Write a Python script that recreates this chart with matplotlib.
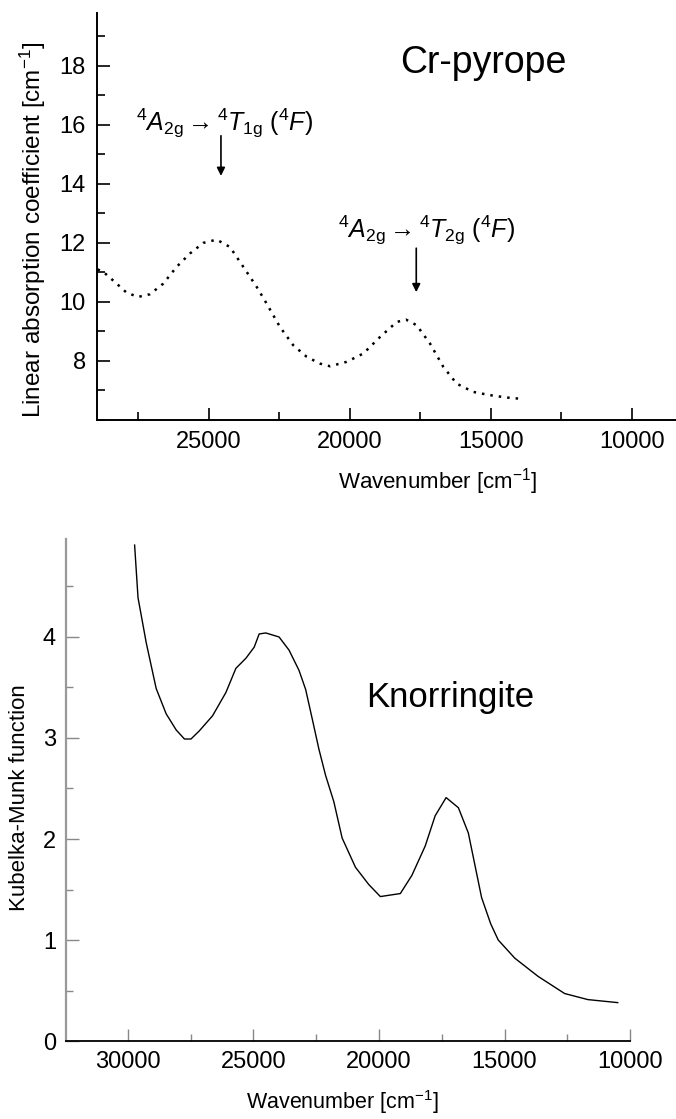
import matplotlib
matplotlib.use("Agg")
import matplotlib.pyplot as plt
from matplotlib.ticker import MultipleLocator

plt.rcParams['font.family'] = ['Liberation Sans', 'DejaVu Sans']
plt.rcParams['mathtext.fontset'] = 'custom'
plt.rcParams['mathtext.rm'] = 'Liberation Sans'
plt.rcParams['mathtext.it'] = 'Liberation Sans:italic'

# Cr-pyrope, linear absorption coefficient (dotted)
pyr_wn = [28950, 28748, 28273, 27918, 27507, 27092, 26620, 26145, 25674, 25202,
          24727, 24255, 23784, 23309, 22954, 22482, 22010, 21535, 21064, 20709,
          20117, 19528, 18936, 18344, 18014, 17635, 17163, 16691, 16216, 15627,
          15035, 14443, 13972]
pyr_val = [11.1, 11.02, 10.62, 10.31, 10.17, 10.26, 10.62, 11.19, 11.64, 12.0,
           12.11, 11.86, 11.19, 10.51, 9.94, 9.15, 8.53, 8.14, 7.91, 7.82,
           7.97, 8.25, 8.81, 9.32, 9.40, 9.21, 8.59, 7.8, 7.23, 6.95,
           6.84, 6.76, 6.72]

# Knorringite, Kubelka-Munk function (solid)
kno_wn = [29735, 29600, 29270, 28876, 28480, 28080, 27750, 27490, 27160, 26630,
          26100, 25700, 25300, 24970, 24774, 24508, 23980, 23584, 23187, 22921,
          22660, 22394, 22128, 21800, 21469, 20937, 20410, 19946, 19150, 18690,
          18160, 17763, 17326, 16838, 16442, 15913, 15550, 15250, 14590, 13664,
          12605, 11680, 10490]
kno_val = [4.91, 4.39, 3.94, 3.49, 3.24, 3.08, 2.99, 2.99, 3.07, 3.22,
           3.45, 3.69, 3.79, 3.9, 4.03, 4.04, 4.0, 3.87, 3.67, 3.48,
           3.19, 2.89, 2.63, 2.37, 2.01, 1.72, 1.55, 1.43, 1.46, 1.64,
           1.93, 2.23, 2.41, 2.31, 2.06, 1.42, 1.16, 1.0, 0.82, 0.64,
           0.47, 0.41, 0.38]

band_labels = [r'${}^{4}A_{\mathrm{2g}} \rightarrow {}^{4}T_{\mathrm{1g}}\ ({}^{4}F)$',
               r'${}^{4}A_{\mathrm{2g}} \rightarrow {}^{4}T_{\mathrm{2g}}\ ({}^{4}F)$']
band_text_xy = [(24433, 16.03), (17294, 12.43)]
band_arrow_x = [24575, 17650]
band_arrow_y = [(15.63, 14.27), (11.82, 10.33)]

fig = plt.figure(figsize=(6.76, 11.19), dpi=100)

# ---- top panel ----
ax1 = fig.add_axes([0.1435, 0.6247, 0.8565, 0.3637])
ax1.plot(pyr_wn, pyr_val, color='black', lw=1.8, linestyle=(0, (1, 2.4)))
ax1.set_xlim(28970, 8440)
ax1.set_ylim(6.0, 19.79)
ax1.xaxis.set_major_locator(MultipleLocator(5000))
ax1.xaxis.set_minor_locator(MultipleLocator(2500))
ax1.yaxis.set_minor_locator(MultipleLocator(1))
ax1.set_yticks([8, 10, 12, 14, 16, 18])
for s in ['top', 'right']:
    ax1.spines[s].set_visible(False)
for s in ['left', 'bottom']:
    ax1.spines[s].set_linewidth(1.4)
ax1.tick_params(which='both', direction='in', width=1.2, labelsize=17)
ax1.tick_params(which='major', length=9, pad=8)
ax1.tick_params(which='minor', length=6)
ax1.set_ylabel('Linear absorption coefficient [cm$^{\\mathrm{-1}}$]', fontsize=17.5)
ax1.yaxis.set_label_coords(-0.1105, 0.467)
ax1.yaxis.label.set_va('center')
ax1.set_xlabel('Wavenumber [cm$^{\\mathrm{-1}}$]', fontsize=16)
ax1.xaxis.set_label_coords(0.589, -0.152)
ax1.xaxis.label.set_va('center')
ax1.text(0.667, 0.877, 'Cr-pyrope', transform=ax1.transAxes, fontsize=27,
         ha='center', va='center')
for lab, (tx, ty), axx, (y0, y1) in zip(band_labels, band_text_xy, band_arrow_x, band_arrow_y):
    ax1.text(tx, ty, lab, fontsize=18, ha='center', va='center')
    ax1.annotate('', xy=(axx, y1), xytext=(axx, y0),
                 arrowprops=dict(arrowstyle='-|>', color='black', lw=1.2,
                                 mutation_scale=12, shrinkA=0, shrinkB=0))

# ---- bottom panel ----
ax2 = fig.add_axes([0.0972, 0.0697, 0.8348, 0.4486])
ax2.plot(kno_wn, kno_val, color='black', lw=1.0)
ax2.set_xlim(32480, 10000)
ax2.set_ylim(0, 4.97)
ax2.xaxis.set_major_locator(MultipleLocator(5000))
ax2.xaxis.set_minor_locator(MultipleLocator(2500))
ax2.yaxis.set_major_locator(MultipleLocator(1))
ax2.yaxis.set_minor_locator(MultipleLocator(0.5))
for s in ['top', 'right']:
    ax2.spines[s].set_visible(False)
ax2.spines['left'].set_color('#999999')
ax2.spines['left'].set_linewidth(1.6)
ax2.spines['bottom'].set_linewidth(1.3)
ax2.tick_params(which='both', direction='in', color='#888888', width=1.0, labelsize=17)
ax2.tick_params(which='major', length=9, pad=7)
ax2.tick_params(which='minor', length=5)
ax2.set_ylabel('Kubelka-Munk function', fontsize=16)
ax2.yaxis.set_label_coords(-0.081, 0.484)
ax2.yaxis.label.set_va('center')
ax2.set_xlabel('Wavenumber [cm$^{\\mathrm{-1}}$]', fontsize=15.5)
ax2.xaxis.set_label_coords(0.491, -0.121)
ax2.xaxis.label.set_va('center')
ax2.text(0.681, 0.685, 'Knorringite', transform=ax2.transAxes, fontsize=25,
         ha='center', va='center')

fig.savefig('out.png', dpi=100)
